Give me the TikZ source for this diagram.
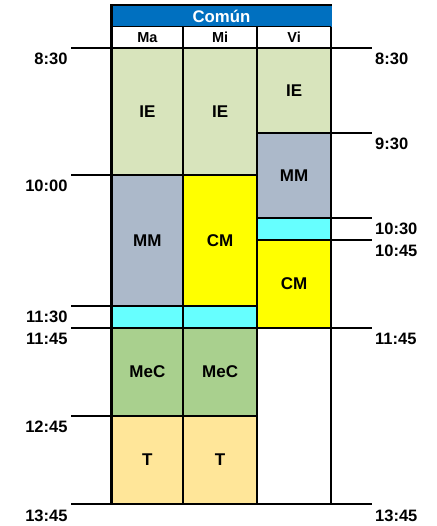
\documentclass[tikz,border=0pt]{standalone}
\usepackage{fontspec}
\setmainfont{Liberation Sans}
\definecolor{ieG}{HTML}{D8E4BC}
\definecolor{mmB}{HTML}{ACB9CA}
\definecolor{cmY}{HTML}{FFFF00}
\definecolor{brkC}{HTML}{66FFFF}
\definecolor{mecG}{HTML}{A9D08E}
\definecolor{tO}{HTML}{FFE699}
\definecolor{hdrB}{HTML}{0070C0}
\newcommand\slotcell[7]{%
  \fill[#5] (#1,#2) rectangle (#3,#4);
  \node[celltext] (#7) at ({(#1+#3)/2},{(#2+#4)/2}) {#6};}
\begin{document}
\begin{tikzpicture}[x=1pt,y=-1pt,
  celltext/.style={font=\fontsize{17}{19}\selectfont\bfseries,inner sep=0pt},
  daytext/.style={font=\fontsize{14.5}{16}\selectfont\bfseries,inner sep=0pt},
  timeL/.style={font=\fontsize{16.5}{18}\selectfont\bfseries,inner sep=0pt,anchor=east},
  timeR/.style={font=\fontsize{16.5}{18}\selectfont\bfseries,inner sep=0pt,anchor=west},
  frame/.style={line width=2.3pt},
  grid/.style={line width=1.8pt},
  thin/.style={line width=1.2pt}]
\useasboundingbox (0,0) rectangle (436,526);
% header
\fill[hdrB] (111.5,5) rectangle (331.7,26.7);
\node[font=\fontsize{16.8}{18}\selectfont\bfseries,text=white,inner sep=0pt] (hdr) at (221.5,16) {Común};
\node[daytext] (dMa) at (147.4,37.5) {Ma};
\node[daytext] (dMi) at (220.2,37.5) {Mi};
\node[daytext] (dVi) at (294.1,37.5) {Vi};
% Ma column
\slotcell{111.5}{47.7}{183.3}{174.7}{ieG}{IE}{ma1}
\slotcell{111.5}{174.7}{183.3}{305.7}{mmB}{MM}{ma2}
\fill[brkC] (111.5,305.7) rectangle (183.3,327.7);
\slotcell{111.5}{327.7}{183.3}{415.7}{mecG}{MeC}{ma3}
\slotcell{111.5}{415.7}{183.3}{504}{tO}{T}{ma4}
% Mi column
\slotcell{183.3}{47.7}{257}{174.7}{ieG}{IE}{mi1}
\slotcell{183.3}{174.7}{257}{305.7}{cmY}{CM}{mi2}
\fill[brkC] (183.3,305.7) rectangle (257,327.7);
\slotcell{183.3}{327.7}{257}{415.7}{mecG}{MeC}{mi3}
\slotcell{183.3}{415.7}{257}{504}{tO}{T}{mi4}
% Vi column
\slotcell{257}{47.7}{331.2}{132.7}{ieG}{IE}{vi1}
\slotcell{257}{132.7}{331.2}{217.7}{mmB}{MM}{vi2}
\fill[brkC] (257,217.7) rectangle (331.2,239.7);
\slotcell{257}{239.7}{331.2}{327.7}{cmY}{CM}{vi3}
% lines
\draw[thin] (111.5,26.7) -- (331.2,26.7);
\draw[grid] (71,47.7) -- (371.7,47.7);
\draw[grid] (71,174.7) -- (257,174.7);
\draw[grid] (257,132.7) -- (371.7,132.7);
\draw[grid] (257,217.7) -- (371.7,217.7);
\draw[grid] (257,239.7) -- (371.7,239.7);
\draw[grid] (71,305.7) -- (257,305.7);
\draw[grid] (71,327.7) -- (371.7,327.7);
\draw[grid] (71,415.7) -- (257,415.7);
\draw[grid] (71,504) -- (371.7,504);
\draw[grid] (183.3,26.7) -- (183.3,504);
\draw[grid] (257,26.7) -- (257,504);
\draw[frame] (111.5,504) -- (111.5,5) -- (331.7,5);
\draw[frame] (331.2,26.7) -- (331.2,504);
\draw[frame] (111.5,504) -- (331.2,504);
% time labels left
\node[timeL] (l830) at (67.7,58.7) {8:30};
\node[timeL] (l1000) at (67.7,185.7) {10:00};
\node[timeL] (l1130) at (67.7,316.7) {11:30};
\node[timeL] (l1145) at (67.7,338.7) {11:45};
\node[timeL] (l1245) at (67.7,426.7) {12:45};
\node[timeL] (l1345) at (67.7,515.5) {13:45};
% time labels right
\node[timeR] (r830) at (375,58.7) {8:30};
\node[timeR] (r930) at (375,144) {9:30};
\node[timeR] (r1030) at (375,229) {10:30};
\node[timeR] (r1045) at (375,251) {10:45};
\node[timeR] (r1145) at (375,338.7) {11:45};
\node[timeR] (r1345) at (375,515.5) {13:45};
\end{tikzpicture}
\end{document}
